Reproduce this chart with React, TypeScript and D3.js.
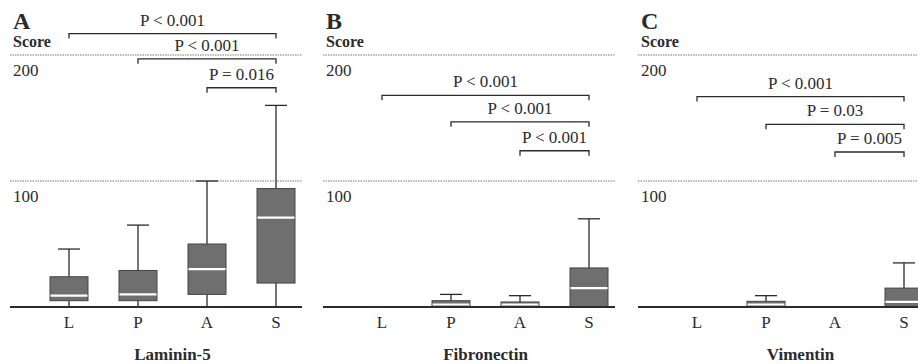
import React from "react";
import * as d3 from "d3";

// categories along each x axis
const categories = ["L", "P", "A", "S"];

// five number summaries [min, q1, median, q3, max] per category
const laminin5 = [
  [0, 5, 9, 24, 46],
  [0, 5, 10, 29, 65],
  [0, 10, 30, 50, 100],
  [0, 19, 71, 94, 160],
];
const fibronectin = [
  [0, 0, 0, 0, 0],
  [0, 0, 2, 5, 10],
  [0, 0, 2, 4, 9],
  [0, 0, 15, 31, 70],
];
const vimentin = [
  [0, 0, 0, 0, 0],
  [0, 0, 2, 4.5, 9],
  [0, 0, 0, 0, 0],
  [0, 0, 4, 15, 35],
];

// comparisons: start category (always vs S), bracket level, label
const bracketFrom = ["L", "P", "A"];
const lamininLevels = [217, 197, 174];
const fibronectinLevels = [168, 147, 124];
const vimentinLevels = [167, 145, 123];
const lamininP = ["P < 0.001", "P < 0.001", "P = 0.016"];
const fibronectinP = ["P < 0.001", "P < 0.001", "P < 0.001"];
const vimentinP = ["P < 0.001", "P = 0.03", "P = 0.005"];

const yTicks = [100, 200];

const panels = [
  { letter: "A", title: "Laminin-5", stats: laminin5, levels: lamininLevels, pvals: lamininP, x0: 10 },
  { letter: "B", title: "Fibronectin", stats: fibronectin, levels: fibronectinLevels, pvals: fibronectinP, x0: 323 },
  { letter: "C", title: "Vimentin", stats: vimentin, levels: vimentinLevels, pvals: vimentinP, x0: 638 },
];

const W = 918;
const H = 364;
const font = "'Liberation Serif', 'Times New Roman', serif";
const ink = "#2b2b2b";

const y = d3.scaleLinear().domain([0, 200]).range([307, 55]);

const Panel = ({ p }: { p: any }) => {
  const panelW = 292;
  const x = d3
    .scalePoint()
    .domain(categories)
    .range([p.x0 + 59, p.x0 + 59 + 207]);
  const boxW = 38;
  const capW = 22;
  const mid = (x("L")! + x("S")!) / 2;

  return (
    <g>
      {/* grid */}
      {yTicks.map((t) => (
        <g key={t}>
          <line x1={p.x0} x2={p.x0 + panelW} y1={y(t)} y2={y(t)} stroke="#777" strokeWidth={1} strokeDasharray="1.5,1" />
          <text x={p.x0 + 3} y={y(t) + 21} fontSize={17} fontFamily={font} fill={ink}>{t}</text>
        </g>
      ))}
      <text x={p.x0 + 3} y={29} fontSize={24} fontWeight="bold" fontFamily={font} fill={ink}>{p.letter}</text>
      <text x={p.x0 + 3} y={47} fontSize={16} fontWeight="bold" fontFamily={font} fill={ink}>Score</text>

      {/* boxes */}
      {p.stats.map((s: number[], i: number) => {
        const cx = x(categories[i])!;
        const [mn, q1, md, q3, mx] = s;
        return (
          <g key={i}>
            <line x1={cx} x2={cx} y1={y(mx)} y2={y(mn)} stroke={ink} strokeWidth={1.3} />
            {mx > q3 && (
              <line x1={cx - capW / 2} x2={cx + capW / 2} y1={y(mx)} y2={y(mx)} stroke={ink} strokeWidth={1.3} />
            )}
            <rect x={cx - boxW / 2} width={boxW} y={y(q3)} height={Math.max(0, y(q1) - y(q3))} fill="#6f6f6f" stroke="#444" strokeWidth={1} />
            {q3 > q1 && (
              <line x1={cx - boxW / 2 + 0.5} x2={cx + boxW / 2 - 0.5} y1={y(md)} y2={y(md)} stroke="#fff" strokeWidth={2.2} />
            )}
          </g>
        );
      })}

      {/* baseline */}
      <line x1={p.x0} x2={p.x0 + panelW} y1={y(0)} y2={y(0)} stroke={ink} strokeWidth={1.8} />

      {/* brackets */}
      {bracketFrom.map((c, i) => {
        const x1 = x(c)!;
        const x2 = x("S")!;
        const by = y(p.levels[i]);
        return (
          <g key={c}>
            <path d={`M${x1},${by + 5}V${by}H${x2}V${by + 5}`} fill="none" stroke={ink} strokeWidth={1.3} />
            <text x={(x1 + x2) / 2} y={by - 8} textAnchor="middle" fontSize={17} fontFamily={font} fill={ink}>{p.pvals[i]}</text>
          </g>
        );
      })}

      {/* category labels */}
      {categories.map((c) => (
        <text key={c} x={x(c)} y={328} textAnchor="middle" fontSize={17} fontFamily={font} fill={ink}>{c}</text>
      ))}
      <text x={mid} y={360} textAnchor="middle" fontSize={17} fontWeight="bold" fontFamily={font} fill={ink}>{p.title}</text>
    </g>
  );
};

const App = () => (
  <svg width={W} height={H} style={{ position: "absolute", left: 0, top: 0, background: "#fff" }}>
    {panels.map((p) => (
      <Panel key={p.letter} p={p} />
    ))}
  </svg>
);

export default App;
